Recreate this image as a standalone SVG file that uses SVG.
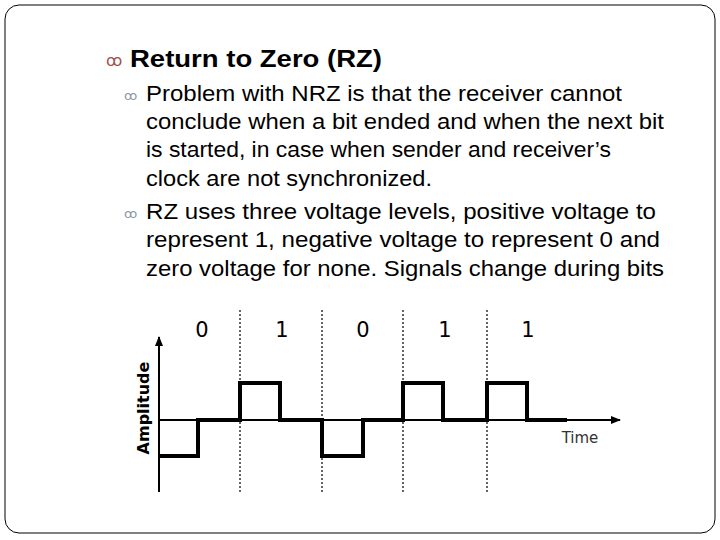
<svg xmlns="http://www.w3.org/2000/svg" width="720" height="540" viewBox="0 0 720 540">
<style>
.t{font-family:"Liberation Sans",Arial,sans-serif;fill:#000;font-size:22.5px}
.b{font-family:"DejaVu Sans",sans-serif;fill:#a05050}
.w{fill:none;stroke:#000;stroke-width:4}
.d{stroke:#333;stroke-width:1.5;stroke-dasharray:2 2}
.lab{font-family:"DejaVu Sans",sans-serif;font-size:21px;fill:#000}
</style>
<defs><marker id="ar" markerWidth="10" markerHeight="8" refX="9" refY="4" orient="auto" markerUnits="userSpaceOnUse"><path d="M0,0L10,4L0,8z" fill="#000"/></marker></defs>
<rect x="5" y="5" width="710" height="528" rx="14" fill="#fff" stroke="#000" stroke-width="1"/>
<g id="text">
<text class="b" x="106" y="66" font-size="16">ꝏ</text>
<text class="t" x="130" y="67" style="font-size:24px" font-weight="bold" textLength="252" lengthAdjust="spacingAndGlyphs">Return to Zero (RZ)</text>
<text class="b" x="124" y="100" font-size="13" style="fill:#8899aa">ꝏ</text>
<text class="t" x="146" y="101" textLength="476" lengthAdjust="spacingAndGlyphs">Problem with NRZ is that the receiver cannot</text>
<text class="t" x="146" y="129" textLength="518" lengthAdjust="spacingAndGlyphs">conclude when a bit ended and when the next bit</text>
<text class="t" x="146" y="157" textLength="465" lengthAdjust="spacingAndGlyphs">is started, in case when sender and receiver’s</text>
<text class="t" x="146" y="186" textLength="286" lengthAdjust="spacingAndGlyphs">clock are not synchronized.</text>
<text class="b" x="124" y="218" font-size="13" style="fill:#8899aa">ꝏ</text>
<text class="t" x="146" y="219" textLength="510" lengthAdjust="spacingAndGlyphs">RZ uses three voltage levels, positive voltage to</text>
<text class="t" x="146" y="247" textLength="514" lengthAdjust="spacingAndGlyphs">represent 1, negative voltage to represent 0 and</text>
<text class="t" x="146" y="276" textLength="518" lengthAdjust="spacingAndGlyphs">zero voltage for none. Signals change during bits</text>
</g>
<g id="chart">
<line class="d" x1="240" y1="310" x2="240" y2="492"/>
<line class="d" x1="322" y1="310" x2="322" y2="492"/>
<line class="d" x1="403" y1="310" x2="403" y2="492"/>
<line class="d" x1="487" y1="310" x2="487" y2="492"/>
<line x1="159" y1="492" x2="159" y2="337" stroke="#000" stroke-width="2" marker-end="url(#ar)"/>
<line x1="159" y1="420" x2="620" y2="420" stroke="#000" stroke-width="2" marker-end="url(#ar)"/>
<path class="w" d="M159,456H198V420H240V383H280V420H322V456H363V420H403V383H443V420H487V383H527V420H567"/>
<text class="lab" x="202" y="337" text-anchor="middle">0</text>
<text class="lab" x="282" y="337" text-anchor="middle">1</text>
<text class="lab" x="363" y="337" text-anchor="middle">0</text>
<text class="lab" x="445" y="337" text-anchor="middle">1</text>
<text class="lab" x="528" y="337" text-anchor="middle">1</text>
<text x="149" y="408" font-family="DejaVu Sans,sans-serif" font-size="16" font-weight="bold" text-anchor="middle" transform="rotate(-90 149 408)">Amplitude</text>
<text x="580" y="443" font-family="DejaVu Sans,sans-serif" font-size="15" fill="#333" text-anchor="middle">Time</text>
</g>
</svg>
